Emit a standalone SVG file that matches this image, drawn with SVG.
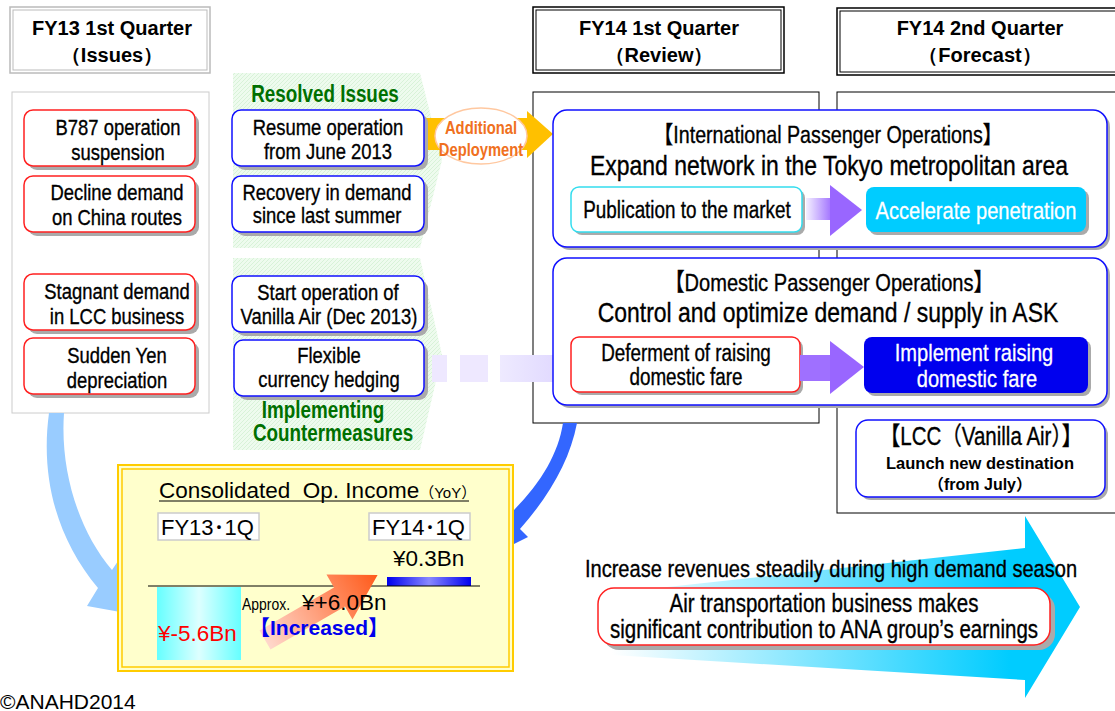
<svg xmlns="http://www.w3.org/2000/svg" width="1115" height="711" viewBox="0 0 1115 711">
<style>
.hdr{font-family:"Liberation Sans",Arial,sans-serif;font-weight:bold;font-size:20px;text-anchor:middle;fill:#000}
.n{font-family:"Liberation Sans","Noto Sans CJK JP",sans-serif;font-size:22.5px;text-anchor:middle;fill:#000;stroke:#000;stroke-width:0.35}
.nw{font-family:"Liberation Sans","Noto Sans CJK JP",sans-serif;font-size:24.5px;text-anchor:middle;fill:#fff;stroke:#fff;stroke-width:0.3}
.grn{font-family:"Liberation Sans",sans-serif;font-size:23px;font-weight:bold;text-anchor:middle;fill:#007000}
.org{font-family:"Liberation Sans",sans-serif;font-size:18px;font-weight:bold;text-anchor:middle;fill:#f07020}
.a{font-family:"Liberation Sans","Noto Sans CJK JP",sans-serif}
.sh{fill:#aaa}
.red{fill:#fff;stroke:#ff2020;stroke-width:1.5}
.blu{fill:#fff;stroke:#1010ff;stroke-width:1.5}
.panel{fill:#fff;stroke:#000;stroke-width:1}
</style>
<defs>
<linearGradient id="gPurple" x1="0" y1="0" x2="1" y2="0"><stop offset="0" stop-color="#f4f0ff"/><stop offset="1" stop-color="#9966ff"/></linearGradient>
<linearGradient id="gLav" x1="0" y1="0" x2="1" y2="0"><stop offset="0" stop-color="#eeeaff"/><stop offset="1" stop-color="#ddd4ff"/></linearGradient>
<linearGradient id="gCyanBar" x1="0" y1="0" x2="1" y2="0"><stop offset="0" stop-color="#66ffff"/><stop offset="0.5" stop-color="#ddffff"/><stop offset="1" stop-color="#66ffff"/></linearGradient>
<linearGradient id="gBlueBar" x1="0" y1="0" x2="1" y2="0"><stop offset="0" stop-color="#0000ee"/><stop offset="0.5" stop-color="#8888ff"/><stop offset="1" stop-color="#0000ee"/></linearGradient>
<linearGradient id="gOrange" x1="0" y1="0" x2="1" y2="0"><stop offset="0" stop-color="#ffd8cc"/><stop offset="1" stop-color="#ff5a1a"/></linearGradient>
<linearGradient id="gBig" x1="0" y1="0" x2="1" y2="0"><stop offset="0" stop-color="#ffffff"/><stop offset="0.85" stop-color="#00ccff"/></linearGradient>
<pattern id="hatch" width="4" height="4" patternUnits="userSpaceOnUse"><rect width="4" height="4" fill="#eefbee"/><path d="M0 4L4 0" stroke="#d8f2d8" stroke-width="1"/></pattern>
</defs>

<!-- Header boxes -->
<g id="hdr-fy13">
<rect x="10" y="7" width="200" height="66" fill="#fff" stroke="#bbb" stroke-width="1.5"/>
<rect x="13" y="10" width="194" height="60" fill="none" stroke="#bbb" stroke-width="1"/>
<text class="hdr" x="112" y="35">FY13 1st Quarter</text>
<text class="hdr" x="112" y="62">（Issues）</text>
</g>
<g id="hdr-fy14-1q">
<rect x="533" y="7" width="251" height="66" fill="#fff" stroke="#000" stroke-width="1.5"/>
<rect x="536" y="10" width="245" height="60" fill="none" stroke="#000" stroke-width="1"/>
<text class="hdr" x="659" y="35">FY14 1st Quarter</text>
<text class="hdr" x="659" y="62">（Review）</text>
</g>
<g id="hdr-fy14-2q">
<rect x="837" y="8" width="285" height="67" fill="#fff" stroke="#000" stroke-width="1.5"/>
<rect x="840" y="11" width="285" height="61" fill="none" stroke="#000" stroke-width="1"/>
<text class="hdr" x="980" y="35">FY14 2nd Quarter</text>
<text class="hdr" x="980" y="62">（Forecast）</text>
</g>

<!-- Panels -->
<g id="panel-left"><rect x="12" y="92" width="197" height="321" fill="#fff" stroke="#ccc" stroke-width="1"/></g>
<g id="panel-1q"><rect class="panel" x="533" y="92" width="286" height="331"/></g>
<g id="panel-2q"><rect class="panel" x="837" y="92" width="285" height="421"/></g>

<!-- Middle green chevrons -->
<g id="band-resolved">
<polygon points="233,73 420,73 442,160 420,248 233,248" fill="url(#hatch)"/>
<text class="grn" transform="translate(325,102) scale(0.82,1)">Resolved Issues</text>
</g>
<g id="band-implementing">
<polygon points="233,258 420,258 442,355 420,450 233,450" fill="url(#hatch)"/>
<text class="grn" transform="translate(323,418) scale(0.82,1)">Implementing</text>
<text class="grn" transform="translate(333,441) scale(0.82,1)">Countermeasures</text>
</g>

<!-- Connectors -->
<g id="connectors">
<g id="arrow-additional">
<rect x="425" y="118" width="104" height="32" fill="#ffc000"/>
<polygon points="527,111 553,134 527,158" fill="#ffc000"/>
<ellipse cx="481" cy="136" rx="46" ry="28" fill="#fff" stroke="#ffc8a0" stroke-width="1.5"/>
<text class="org" transform="translate(481,134) scale(0.82,1)">Additional</text>
<text class="org" transform="translate(481,156) scale(0.82,1)">Deployment</text>
</g>
<g id="arrow-hedging">
<rect x="432" y="355" width="15" height="27" fill="#eee8ff"/>
<rect x="460" y="355" width="28" height="27" fill="#eee8ff"/>
<rect x="500" y="355" width="75" height="27" fill="url(#gLav)"/>
</g>
<path id="arrow-left-curve" d="M49 413 C40 480 58 540 98 588 L87 606 L148 617 L122 555 L112 570 C78 530 60 470 64 413 Z" fill="#99ccff"/>
<path id="arrow-right-curve" d="M563 423 C558 455 540 485 508 516 L500 508 L478 562 L528 537 L520 529 C550 495 570 460 577 423 Z" fill="#3366ff"/>
</g>

<!-- Left issue boxes -->
<g id="issue-b787">
<rect class="sh" x="28" y="114" width="171" height="56" rx="9"/>
<rect class="red" x="24" y="110" width="171" height="56" rx="9"/>
<text class="n" transform="translate(118,135) scale(0.82,1)">B787 operation</text>
<text class="n" transform="translate(118,160) scale(0.82,1)">suspension</text>
</g>
<g id="issue-china">
<rect class="sh" x="28" y="180" width="171" height="56" rx="9"/>
<rect class="red" x="24" y="176" width="171" height="56" rx="9"/>
<text class="n" transform="translate(117,200) scale(0.82,1)">Decline demand</text>
<text class="n" transform="translate(117,225) scale(0.82,1)">on China routes</text>
</g>
<g id="issue-lcc">
<rect class="sh" x="28" y="278" width="171" height="56" rx="9"/>
<rect class="red" x="24" y="274" width="171" height="56" rx="9"/>
<text class="n" transform="translate(117,299) scale(0.82,1)">Stagnant demand</text>
<text class="n" transform="translate(117,324) scale(0.82,1)">in LCC business</text>
</g>
<g id="issue-yen">
<rect class="sh" x="28" y="342" width="171" height="56" rx="9"/>
<rect class="red" x="24" y="338" width="171" height="56" rx="9"/>
<text class="n" transform="translate(117,363) scale(0.82,1)">Sudden Yen</text>
<text class="n" transform="translate(117,388) scale(0.82,1)">depreciation</text>
</g>

<!-- Middle boxes -->
<g id="resume">
<rect class="sh" x="236" y="114" width="192" height="56" rx="9"/>
<rect class="blu" x="232" y="110" width="192" height="56" rx="9"/>
<text class="n" transform="translate(328,135) scale(0.82,1)">Resume operation</text>
<text class="n" transform="translate(328,159) scale(0.82,1)">from June 2013</text>
</g>
<g id="recovery">
<rect class="sh" x="236" y="180" width="192" height="56" rx="9"/>
<rect class="blu" x="232" y="176" width="192" height="56" rx="9"/>
<text class="n" transform="translate(327,200) scale(0.82,1)">Recovery in demand</text>
<text class="n" transform="translate(327,223) scale(0.82,1)">since last summer</text>
</g>
<g id="vanilla">
<rect class="sh" x="236" y="280" width="192" height="56" rx="9"/>
<rect class="blu" x="232" y="276" width="192" height="56" rx="9"/>
<text class="n" transform="translate(328,300) scale(0.82,1)">Start operation of</text>
<text class="n" transform="translate(329,324) scale(0.82,1)">Vanilla Air (Dec 2013)</text>
</g>
<g id="hedging">
<rect class="sh" x="238" y="344" width="190" height="56" rx="9"/>
<rect class="blu" x="234" y="340" width="190" height="56" rx="9"/>
<text class="n" transform="translate(329,363) scale(0.82,1)">Flexible</text>
<text class="n" transform="translate(329,387) scale(0.82,1)">currency hedging</text>
</g>

<!-- International -->
<g id="intl">
<rect class="sh" x="556" y="113" width="554" height="137" rx="14"/>
<rect class="blu" x="553" y="110" width="554" height="137" rx="14"/>
<text class="n" style="font-size:24px" transform="translate(828,143) scale(0.82,1)">【International Passenger Operations】</text>
<text class="n" style="font-size:28px" transform="translate(829,175) scale(0.82,1)">Expand network in the Tokyo metropolitan area</text>
</g>
<g id="publication">
<rect class="sh" x="574" y="190" width="231" height="45" rx="8"/>
<rect x="571" y="187" width="231" height="45" rx="8" fill="#fff" stroke="#33ddee" stroke-width="1.5"/>
<text class="n" style="font-size:23px" transform="translate(687,218) scale(0.82,1)">Publication to the market</text>
</g>
<g id="arrow-intl">
<rect x="806" y="198" width="28" height="22" fill="url(#gPurple)"/>
<polygon points="830,185 862,210 830,236" fill="#9966ff"/>
</g>
<g id="accelerate">
<rect class="sh" x="869" y="190" width="220" height="45" rx="8"/>
<rect x="866" y="187" width="220" height="45" rx="8" fill="#00ccff"/>
<text class="nw" transform="translate(976,219) scale(0.82,1)">Accelerate penetration</text>
</g>

<!-- Domestic -->
<g id="dom">
<rect class="sh" x="556" y="261" width="554" height="147" rx="14"/>
<rect class="blu" x="553" y="258" width="554" height="147" rx="14"/>
<text class="n" style="font-size:24.5px" transform="translate(829,291) scale(0.82,1)">【Domestic Passenger Operations】</text>
<text class="n" style="font-size:28px" transform="translate(828,322) scale(0.82,1)">Control and optimize demand / supply in ASK</text>
</g>
<g id="deferment">
<rect class="sh" x="574" y="340" width="229" height="55" rx="8"/>
<rect class="red" x="571" y="337" width="229" height="55" rx="8"/>
<text class="n" style="font-size:23px" transform="translate(686,361) scale(0.82,1)">Deferment of raising</text>
<text class="n" style="font-size:23px" transform="translate(686,385) scale(0.82,1)">domestic fare</text>
</g>
<g id="arrow-dom">
<rect x="800" y="355" width="32" height="26" fill="#9f70ff"/>
<polygon points="830,341 864,367 830,394" fill="#9966ff"/>
</g>
<g id="implement">
<rect class="sh" x="867" y="340" width="224" height="56" rx="8"/>
<rect x="864" y="337" width="224" height="56" rx="8" fill="#0000ee"/>
<text class="nw" transform="translate(974,361) scale(0.82,1)">Implement raising</text>
<text class="nw" transform="translate(977,387) scale(0.82,1)">domestic fare</text>
</g>

<!-- LCC -->
<g id="lcc">
<rect class="sh" x="859" y="423" width="249" height="77" rx="12"/>
<rect class="blu" x="856" y="420" width="249" height="77" rx="12"/>
<text class="n" style="font-size:25px" transform="translate(981,445) scale(0.82,1)">【LCC（Vanilla Air）】</text>
<text class="a" x="980" y="469" font-size="16.5" font-weight="bold" text-anchor="middle">Launch new destination</text>
<text class="a" x="980" y="490" font-size="16" font-weight="bold" text-anchor="middle">（from July）</text>
</g>

<!-- Consolidated -->
<g id="consolidated">
<rect x="118" y="465" width="395" height="206" fill="#ffffcc" stroke="#ffcc00" stroke-width="2"/>
<rect x="122" y="469" width="387" height="198" fill="none" stroke="#ffcc00" stroke-width="1.5"/>
<text class="a" x="159" y="498" font-size="22.5" xml:space="preserve">Consolidated  Op. Income<tspan font-size="15">（YoY）</tspan></text>
<line x1="159" y1="501" x2="469" y2="501" stroke="#000" stroke-width="1"/>
<rect x="158" y="513" width="101" height="27" fill="#fff" stroke="#ccc" stroke-width="1.5"/>
<text class="a" x="161" y="535" font-size="22">FY13･1Q</text>
<rect x="369" y="513" width="101" height="27" fill="#fff" stroke="#ccc" stroke-width="1.5"/>
<text class="a" x="372" y="535" font-size="22">FY14･1Q</text>
<text class="a" x="393" y="566" font-size="22.5">¥0.3Bn</text>
<rect x="387" y="577" width="84" height="9" fill="url(#gBlueBar)"/>
<line x1="148" y1="586" x2="480" y2="586" stroke="#000" stroke-width="1"/>
<rect x="157" y="587" width="84" height="73" fill="url(#gCyanBar)"/>
<g transform="translate(265,640) rotate(-30)">
<polygon points="0,-11 86,-11 86,-26 130,0 86,26 86,11 0,11" fill="url(#gOrange)"/>
</g>
<text class="a" x="158" y="641" font-size="22.5" fill="#ff0000">¥-5.6Bn</text>
<text class="a" transform="translate(242,610) scale(0.82,1)" font-size="17">Approx.</text>
<text class="a" x="302" y="610" font-size="22.5">¥+6.0Bn</text>
<text class="a" x="249" y="635" font-size="21" font-weight="bold" fill="#0000ee">【Increased】</text>
</g>

<!-- Bottom right big arrow -->
<g id="arrow-big">
<polygon points="612,593 1025,548 1025,516 1080,607 1025,698 1025,680 612,655" fill="url(#gBig)"/>
</g>
<g id="increase">
<text class="n" style="font-size:24.5px" transform="translate(831,577) scale(0.82,1)">Increase revenues steadily during high demand season</text>
</g>
<g id="air-transport">
<rect class="sh" x="603" y="593" width="452" height="57" rx="16"/>
<rect class="red" x="598" y="588" width="452" height="57" rx="16"/>
<text class="n" style="font-size:25px" transform="translate(824,612) scale(0.82,1)">Air transportation business makes</text>
<text class="n" style="font-size:25px" transform="translate(824,638) scale(0.82,1)">significant contribution to ANA group’s earnings</text>
</g>

<text class="a" x="0" y="709" font-size="21">©ANAHD2014</text>
</svg>
